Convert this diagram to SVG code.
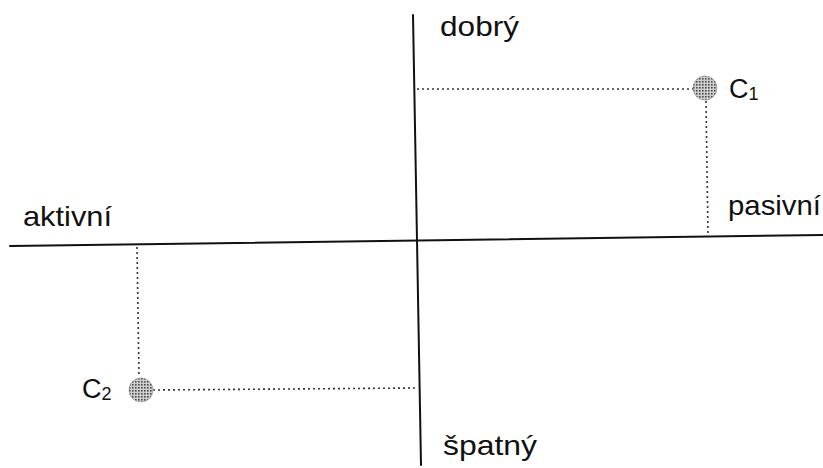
<svg xmlns="http://www.w3.org/2000/svg" width="823" height="468" viewBox="0 0 823 468">
  <defs>
    <pattern id="stipple" width="3" height="3" patternUnits="userSpaceOnUse">
      <rect width="3" height="3" fill="#cfcfcf"/>
      <rect x="0" y="0" width="1.6" height="1.6" fill="#4a4a4a"/>
    </pattern>
  </defs>
  <style>
    .axis { stroke: #111; stroke-width: 2; fill: none; stroke-linecap: round; }
    .dot { stroke: #333; stroke-width: 1.6; stroke-dasharray: 2 3; fill: none; }
    .pt { fill: url(#stipple); stroke: #888; stroke-width: 0.6; }
    .lbl { font-family: "Liberation Sans", Arial, Helvetica, sans-serif; font-size: 28px; fill: #111; }
    .clbl { font-family: "Liberation Sans", Arial, Helvetica, sans-serif; font-size: 27px; fill: #111; }
    .sub { font-size: 18px; }
  </style>
  <rect width="823" height="468" fill="#ffffff"/>
  <g id="connectors">
    <line class="axis" x1="10" y1="246" x2="823" y2="235"/>
    <line class="axis" x1="413" y1="15" x2="421" y2="465"/>
    <line class="dot" x1="417" y1="89" x2="693" y2="89"/>
    <line class="dot" x1="706" y1="101" x2="708" y2="235"/>
    <line class="dot" x1="137" y1="247" x2="139" y2="377"/>
    <line class="dot" x1="153" y1="390" x2="418" y2="388"/>
  </g>
  <g id="axis-dobry"><text class="lbl" x="440" y="36" textLength="79" lengthAdjust="spacingAndGlyphs">dobrý</text></g>
  <g id="axis-spatny"><text class="lbl" x="443" y="455" textLength="94" lengthAdjust="spacingAndGlyphs">špatný</text></g>
  <g id="axis-aktivni"><text class="lbl" x="23" y="226" textLength="89" lengthAdjust="spacingAndGlyphs">aktivní</text></g>
  <g id="axis-pasivni"><text class="lbl" x="728" y="215" textLength="93" lengthAdjust="spacingAndGlyphs">pasivní</text></g>
  <g id="C1">
    <circle class="pt" cx="705" cy="88" r="12"/>
    <text class="clbl" x="729" y="98">C<tspan class="sub" dy="2">1</tspan></text>
  </g>
  <g id="C2">
    <circle class="pt" cx="141" cy="390" r="12"/>
    <text class="clbl" x="82" y="398">C<tspan class="sub" dy="2">2</tspan></text>
  </g>
</svg>
